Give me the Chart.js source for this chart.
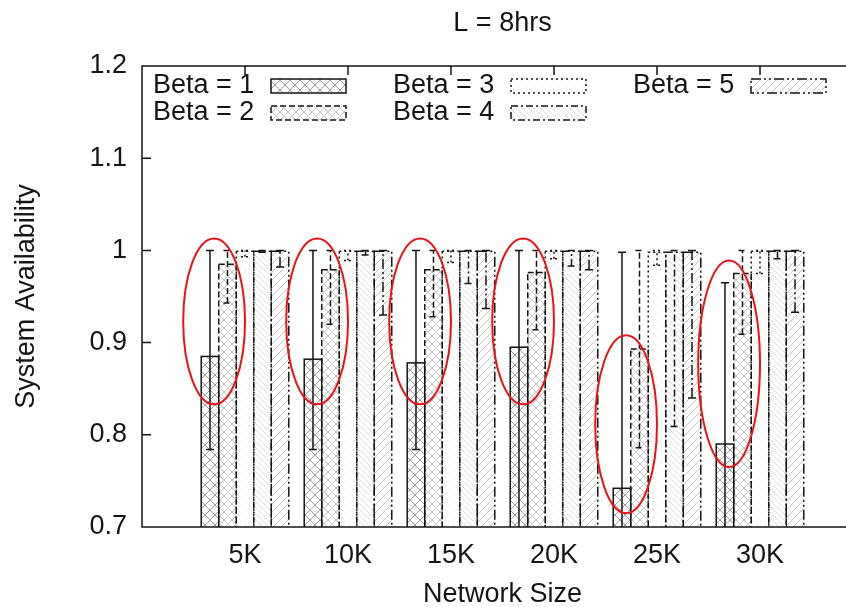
<!DOCTYPE html>
<html>
<head>
<meta charset="utf-8">
<script src="https://cdn.jsdelivr.net/npm/chart.js@4.4.1/dist/chart.umd.min.js"></script>
<style>
  html, body { margin: 0; padding: 0; background: #fff; overflow: hidden; }
  #wrap { width: 846px; height: 607px; overflow: hidden; position: relative; }
  canvas { position: absolute; left: 0; top: 0; }
</style>
</head>
<body>
<div id="wrap"><canvas id="chart" width="875" height="611"></canvas></div>
<script>
const categories = ['5K', '10K', '15K', '20K', '25K', '30K'];
const yTickLabels = ['0.7', '0.8', '0.9', '1', '1.1', '1.2'];
const seriesLabels = ['Beta = 1', 'Beta = 2', 'Beta = 3', 'Beta = 4', 'Beta = 5'];

// mean values
const beta1 = [0.885, 0.882, 0.878, 0.895, 0.742, 0.790];
const beta2 = [0.985, 0.979, 0.979, 0.976, 0.893, 0.975];
const beta3 = [0.999, 0.999, 0.999, 0.999, 0.998, 0.999];
const beta4 = [0.999, 0.999, 0.999, 0.999, 0.998, 0.999];
const beta5 = [0.999, 0.999, 0.999, 0.999, 0.998, 0.999];

// error bar ends
const beta1Low = [0.784, 0.784, 0.784, 0.690, 0.480, 0.615];
const beta1High = [1.0, 1.0, 1.0, 1.0, 0.998, 0.965];
const beta2Low = [0.943, 0.920, 0.928, 0.914, 0.786, 0.909];
const beta2High = [1.0, 1.0, 1.0, 1.0, 1.0, 1.0];
const beta3Low = [0.993, 0.989, 0.987, 0.991, 0.984, 0.975];
const beta3High = [1.0, 1.0, 1.0, 1.0, 1.0, 1.0];
const beta4Low = [0.998, 0.995, 0.964, 0.983, 0.809, 0.991];
const beta4High = [1.0, 1.0, 1.0, 1.0, 1.0, 1.0];
const beta5Low = [0.982, 0.930, 0.937, 0.979, 0.840, 0.933];
const beta5High = [1.0, 1.0, 1.0, 1.0, 1.0, 1.0];

// red highlight ellipses (value range they enclose)
const ellipseTop = [1.013, 1.013, 1.013, 1.013, 0.908, 0.989];
const ellipseBottom = [0.833, 0.833, 0.833, 0.833, 0.715, 0.765];

const means = [beta1, beta2, beta3, beta4, beta5];
const lows = [beta1Low, beta2Low, beta3Low, beta4Low, beta5Low];
const highs = [beta1High, beta2High, beta3High, beta4High, beta5High];

const FONT = "'Liberation Sans', Arial, sans-serif";
const INK = '#151515';
const dashes = [[], [6, 3], [2, 3], [7, 3, 2, 3], [10, 3, 2, 3, 2, 3]];

const canvas = document.getElementById('chart');
const ctx = canvas.getContext('2d');

function makePattern(size, draw) {
    const c = document.createElement('canvas');
    c.width = size;
    c.height = size;
    const g = c.getContext('2d');
    g.fillStyle = '#fff';
    g.fillRect(0, 0, size, size);
    draw(g, size);
    return ctx.createPattern(c, 'repeat');
}

const patterns = [
    makePattern(10, (g, s) => {
        g.strokeStyle = '#a0a0a0'; g.lineWidth = 1;
        g.beginPath(); g.moveTo(0, 0); g.lineTo(s, s); g.moveTo(s, 0); g.lineTo(0, s); g.stroke();
    }),
    makePattern(8, (g, s) => {
        g.strokeStyle = '#c0c0c0'; g.lineWidth = 1;
        g.beginPath(); g.moveTo(0, 0); g.lineTo(s, s); g.moveTo(s, 0); g.lineTo(0, s); g.stroke();
        g.fillStyle = '#d4d4d4'; g.fillRect(3, 3, 2, 2);
    }),
    makePattern(8, (g, s) => {
        g.fillStyle = '#d2d2d2'; g.fillRect(1, 1, 1, 1); g.fillRect(5, 5, 1, 1);
    }),
    makePattern(6, (g, s) => {
        g.strokeStyle = '#e0e0e0'; g.lineWidth = 1;
        g.beginPath(); g.moveTo(0, 0); g.lineTo(s, s); g.stroke();
    }),
    makePattern(8, (g, s) => {
        g.strokeStyle = '#c8c8c8'; g.lineWidth = 1;
        g.beginPath(); g.moveTo(s, 0); g.lineTo(0, s); g.stroke();
    })
];

const decor = {
    id: 'decor',
    beforeDraw(chart) {
        const c = chart.ctx;
        c.save();
        c.fillStyle = '#fff';
        c.fillRect(0, 0, chart.width, chart.height);
        c.restore();
    },
    afterDatasetsDraw(chart) {
        const c = chart.ctx;
        const area = chart.chartArea;
        const xs = chart.scales.x;
        const ys = chart.scales.y;

        c.save();
        c.beginPath();
        c.rect(area.left, area.top, area.right - area.left, area.bottom - area.top);
        c.clip();
        c.strokeStyle = INK;
        c.lineWidth = 1.5;
        // bar outlines
        chart.data.datasets.forEach((ds, d) => {
            const meta = chart.getDatasetMeta(d);
            c.setLineDash(dashes[d]);
            meta.data.forEach(bar => {
                const p = bar.getProps(['x', 'y', 'base', 'width'], true);
                c.strokeRect(p.x - p.width / 2, p.y, p.width, p.base - p.y);
            });
        });
        // error bars
        chart.data.datasets.forEach((ds, d) => {
            const meta = chart.getDatasetMeta(d);
            c.setLineDash(dashes[d]);
            meta.data.forEach((bar, i) => {
                const x = bar.x;
                const yl = ys.getPixelForValue(lows[d][i]);
                const yh = ys.getPixelForValue(highs[d][i]);
                c.beginPath();
                c.moveTo(x, yl); c.lineTo(x, yh);
                c.moveTo(x - 4, yl); c.lineTo(x + 4, yl);
                c.moveTo(x - 4, yh); c.lineTo(x + 4, yh);
                c.stroke();
            });
        });
        c.restore();

        // frame and tics
        c.save();
        c.strokeStyle = INK;
        c.lineWidth = 1.5;
        c.beginPath();
        c.moveTo(area.right + 2, area.top); c.lineTo(area.left, area.top);
        c.lineTo(area.left, area.bottom); c.lineTo(area.right + 2, area.bottom);
        yTickLabels.forEach((t, k) => {
            const y = ys.getPixelForValue(0.7 + k * 0.1);
            c.moveTo(area.left, y); c.lineTo(area.left + 9, y);
        });
        categories.forEach((t, i) => {
            const x = xs.getPixelForValue(i);
            c.moveTo(x, area.top); c.lineTo(x, area.top + 9);
        });
        c.stroke();

        // red ellipses
        c.strokeStyle = '#e8141b';
        c.lineWidth = 2;
        categories.forEach((t, i) => {
            const cx = xs.getPixelForValue(i - 0.3);
            const rx = xs.getPixelForValue(i + 0.3) - xs.getPixelForValue(i);
            const yt = ys.getPixelForValue(ellipseTop[i]);
            const yb = ys.getPixelForValue(ellipseBottom[i]);
            c.beginPath();
            c.ellipse(cx, (yt + yb) / 2, rx, (yb - yt) / 2, 0, 0, Math.PI * 2);
            c.stroke();
        });

        // key
        const colX = [153, 393, 633];
        const rowY = [86, 113];
        c.font = '27px ' + FONT;
        c.textBaseline = 'middle';
        c.textAlign = 'left';
        c.fillStyle = INK;
        seriesLabels.forEach((lab, d) => {
            const x = colX[Math.floor(d / 2)];
            const y = rowY[d % 2];
            c.fillText(lab, x, y);
            c.fillStyle = patterns[d];
            c.fillRect(x + 118, y - 7, 75, 14);
            c.fillStyle = INK;
            c.setLineDash(dashes[d]);
            c.strokeStyle = INK;
            c.lineWidth = 1.5;
            c.strokeRect(x + 118, y - 7, 75, 14);
        });
        c.restore();
    }
};

const datasets = means.map((vals, d) => ({
    label: seriesLabels[d],
    data: vals.map((v, i) => ({ x: i, y: v })),
    backgroundColor: patterns[d],
    borderWidth: 0,
    categoryPercentage: 0.85,
    barPercentage: 1.0
}));

new Chart(ctx, {
    type: 'bar',
    data: { datasets: datasets },
    options: {
        responsive: false,
        animation: false,
        devicePixelRatio: 1,
        layout: { padding: 0 },
        plugins: {
            legend: { display: false },
            tooltip: { enabled: false },
            title: {
                display: true,
                fullSize: false,
                text: 'L = 8hrs',
                color: INK,
                font: { family: FONT, size: 27, weight: 'normal' },
                padding: { top: 7, bottom: 26.6 }
            }
        },
        scales: {
            x: {
                type: 'linear',
                min: -1,
                max: 6,
                offset: false,
                grid: { display: false, drawTicks: false },
                border: { display: false },
                ticks: {
                    stepSize: 1,
                    autoSkip: false,
                    maxRotation: 0,
                    padding: 12,
                    color: INK,
                    font: { family: FONT, size: 27 },
                    callback: v => categories[v] || ''
                },
                title: {
                    display: true,
                    text: 'Network Size',
                    color: INK,
                    font: { family: FONT, size: 27 },
                    padding: { top: 0, bottom: 0 }
                },
                afterFit: s => { s.height = 84; }
            },
            y: {
                min: 0.7,
                max: 1.2,
                beginAtZero: false,
                grid: { display: false, drawTicks: false },
                border: { display: false },
                ticks: {
                    stepSize: 0.1,
                    padding: 15,
                    color: INK,
                    font: { family: FONT, size: 27 },
                    callback: v => yTickLabels[Math.round((v - 0.7) * 10)]
                },
                title: {
                    display: true,
                    text: 'System Availability',
                    color: INK,
                    font: { family: FONT, size: 27 },
                    padding: { top: 10, bottom: 0 }
                },
                afterFit: s => { s.width = 142; }
            }
        }
    },
    plugins: [decor]
});
</script>
</body>
</html>
